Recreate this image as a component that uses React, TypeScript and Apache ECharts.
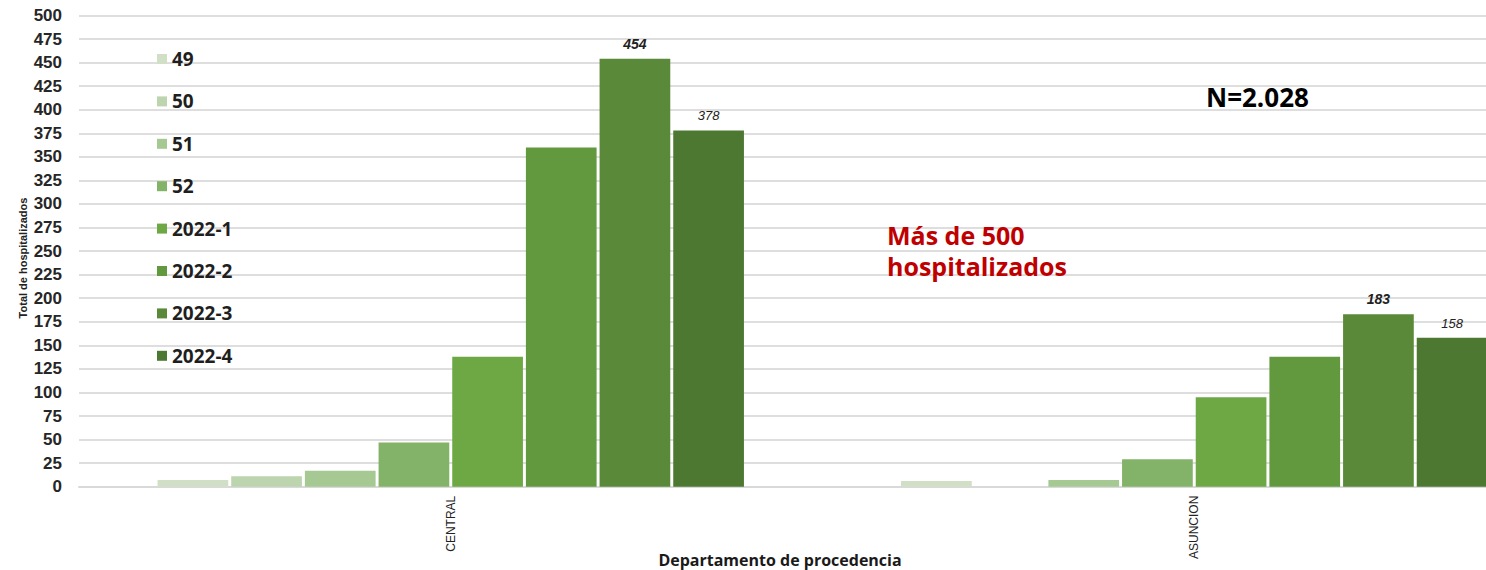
import React, { useEffect, useRef } from "react";
import * as echarts from "echarts";

const categories = ["CENTRAL", "ASUNCION"];
const seriesNames = ["49", "50", "51", "52", "2022-1", "2022-2", "2022-3", "2022-4"];
const s49 = [7, 6];
const s50 = [11, 0];
const s51 = [17, 7];
const s52 = [47, 29];
const s2022_1 = [138, 95];
const s2022_2 = [360, 138];
const s2022_3 = [454, 183];
const s2022_4 = [378, 158];
const seriesValues = [s49, s50, s51, s52, s2022_1, s2022_2, s2022_3, s2022_4];
const seriesColors = ["#d0dfc6", "#bcd5ae", "#a6c892", "#82b368", "#6ea844", "#62993e", "#5a8a39", "#4d7832"];
const labeledSeries = ["2022-3", "2022-4"];

const narrow = "'Liberation Sans Narrow', 'Liberation Sans', Arial, sans-serif";
const humanist = "'Open Sans', 'Noto Sans', sans-serif";

export default function App() {
  const ref = useRef<HTMLDivElement>(null);
  useEffect(() => {
    if (!ref.current) return;
    const chart = echarts.init(ref.current, null, { renderer: "svg", width: 1486, height: 570 });
    const series = seriesNames.map((name, i) => {
      const hasLabel = labeledSeries.includes(name);
      return {
        name,
        type: "bar",
        data: seriesValues[i],
        barWidth: 70.7,
        barGap: "4.2%",
        itemStyle: { color: seriesColors[i] },
        label: hasLabel
          ? {
              show: true,
              position: "top",
              distance: 8,
              fontFamily: narrow,
              fontStyle: "italic",
              fontWeight: name === "2022-3" ? "bold" : "normal",
              fontSize: name === "2022-3" ? 14 : 13,
              color: "#222",
            }
          : { show: false },
      };
    });
    chart.setOption({
      animation: false,
      backgroundColor: "#ffffff",
      grid: {
        left: 79,
        top: 15.5,
        width: 1487,
        height: 471.2,
        containLabel: false,
        outerBoundsMode: "none",
      },
      legend: {
        orient: "vertical",
        left: 157,
        top: 49,
        padding: 0,
        itemWidth: 10,
        itemHeight: 10,
        itemGap: 22.4,
        icon: "rect",
        data: seriesNames,
        textStyle: { fontFamily: humanist, fontWeight: "bold", fontSize: 19, lineHeight: 20, color: "#1f1f1f" },
      },
      xAxis: {
        type: "category",
        data: categories,
        axisTick: { show: false },
        axisLine: { show: true, lineStyle: { color: "#d9d9d9", width: 2 } },
        axisLabel: { rotate: 90, margin: 9, fontFamily: "'Liberation Sans', Arial, sans-serif", fontSize: 12, color: "#222" },
      },
      yAxis: {
        type: "value",
        min: 0,
        max: 500,
        interval: 25,
        axisLine: { show: false },
        axisTick: { show: false },
        splitLine: { show: true, lineStyle: { color: "#dedede", width: 2 } },
        axisLabel: { margin: 17, fontFamily: narrow, fontWeight: "bold", fontSize: 17, color: "#262626" },
      },
      graphic: [
        {
          type: "text",
          x: 23,
          y: 258,
          z: 100,
          rotation: Math.PI / 2,
          style: {
            text: "Total de hospitalizados",
            fontFamily: "'Liberation Sans', Arial, sans-serif",
            fontWeight: "bold",
            fontSize: 11,
            fill: "#222",
            align: "center",
            verticalAlign: "middle",
          },
        },
        {
          type: "text",
          x: 780,
          y: 560,
          z: 100,
          style: {
            text: "Departamento de procedencia",
            fontFamily: humanist,
            fontWeight: "bold",
            fontSize: 16,
            fill: "#1a1a1a",
            align: "center",
            verticalAlign: "middle",
          },
        },
        {
          type: "text",
          x: 1206,
          y: 97,
          z: 100,
          style: {
            text: "N=2.028",
            fontFamily: humanist,
            fontWeight: "bold",
            fontSize: 26,
            fill: "#000000",
            align: "left",
            verticalAlign: "middle",
          },
        },
        {
          type: "text",
          x: 887,
          y: 219,
          z: 100,
          style: {
            text: "Más de 500\nhospitalizados",
            fontFamily: humanist,
            fontWeight: "bold",
            fontSize: 25,
            lineHeight: 31,
            fill: "#c00000",
            align: "left",
            verticalAlign: "top",
          },
        },
      ],
      series,
    });
    return () => chart.dispose();
  }, []);
  return (
    <div
      ref={ref}
      style={{ position: "fixed", left: 0, top: 0, width: 1486, height: 570, overflow: "hidden" }}
    />
  );
}
